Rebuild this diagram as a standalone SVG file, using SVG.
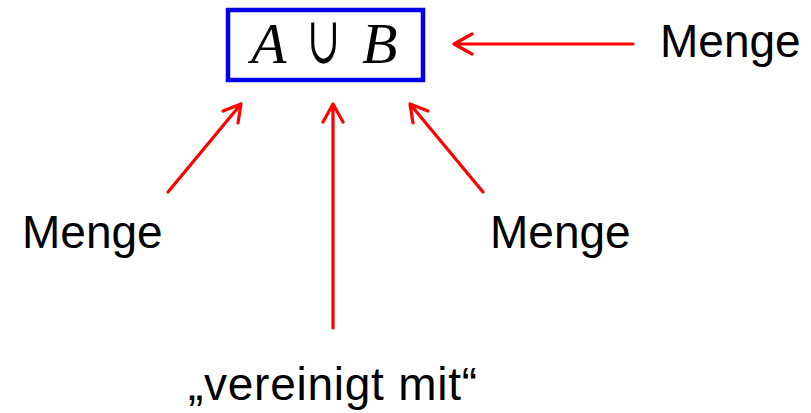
<svg xmlns="http://www.w3.org/2000/svg" width="811" height="413" viewBox="0 0 811 413">
  <style>
    .lbl { font-family: "Liberation Sans", Arial, sans-serif; font-size: 46px; fill: #000; }
    .var { font-family: "Liberation Serif", serif; font-style: italic; font-weight: normal; font-size: 58px; fill: #000; }
    .op { font-family: "DejaVu Serif", serif; font-size: 66px; fill: #000; }
    .arrow { stroke: #ff0000; stroke-width: 3.2; fill: none; stroke-linecap: round; stroke-linejoin: round; }
  </style>
  <g id="expr">
    <rect x="228" y="10" width="195" height="70" fill="#fff" stroke="#0000ee" stroke-width="4.5"/>
    <text class="var" x="251" y="63">A</text>
    <text class="op" transform="translate(307,63) scale(0.6,1)" x="0" y="0">∪</text>
    <text class="var" x="362" y="63">B</text>
  </g>
  <g id="label-right"><text class="lbl" x="660" y="57">Menge</text></g>
  <g id="label-left"><text class="lbl" x="22" y="248">Menge</text></g>
  <g id="label-mid-right"><text class="lbl" x="490" y="248">Menge</text></g>
  <g id="label-bottom"><text class="lbl" x="188" y="400" textLength="289" lengthAdjust="spacing">„vereinigt mit“</text></g>
  <g id="connectors">
    <path class="arrow" d="M633,44 L454,44 M472,34 L454,44 L472,54"/>
    <path class="arrow" d="M168,192 L241,104 M223,111 L241,104 L238,123"/>
    <path class="arrow" d="M333,328 L333,104 M323,122 L333,104 L343,122"/>
    <path class="arrow" d="M483,192 L410,104 M428,111 L410,104 L413,123"/>
  </g>
</svg>
